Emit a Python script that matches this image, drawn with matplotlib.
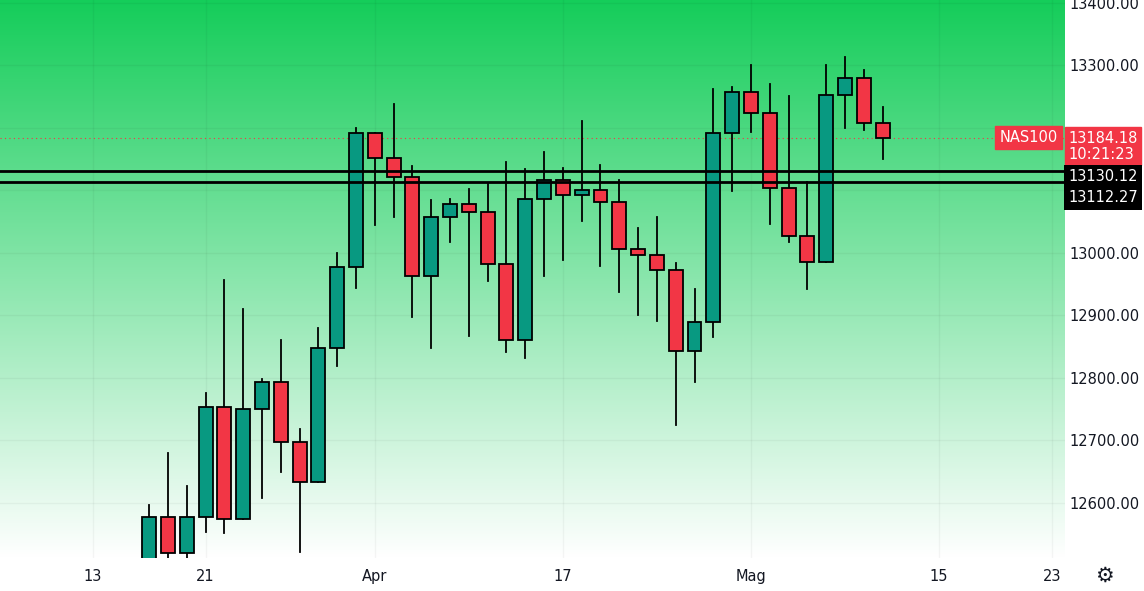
import numpy as np
import matplotlib.pyplot as plt
from matplotlib.patches import Rectangle

# daily OHLC
opens = [12510, 12578, 12520, 12578, 12754, 12575, 12750, 12794, 12698, 12634,
         12848, 12977, 13191, 13151, 13121, 12963, 13057, 13078, 13065, 12982,
         12861, 13086, 13116, 13092, 13100, 13081, 13006, 12996, 12973, 12843,
         12889, 13191, 13257, 13223, 13104, 13027, 12985, 13252, 13279, 13207]
highs = [12596, 12680, 12627, 12776, 12957, 12910, 12798, 12861, 12719, 12880,
         13000, 13199, 13191, 13238, 13139, 13084, 13086, 13102, 13110, 13145,
         13134, 13161, 13135, 13211, 13140, 13116, 13040, 13057, 12984, 12942,
         13262, 13265, 13300, 13270, 13250, 13113, 13300, 13313, 13292, 13233]
lows = [12500, 12508, 12508, 12554, 12552, 12575, 12608, 12650, 12522, 12634,
        12819, 12944, 13044, 13057, 12897, 12848, 13017, 12867, 12955, 12842,
        12832, 12963, 12988, 13051, 12979, 12937, 12901, 12891, 12725, 12794,
        12865, 13099, 13193, 13046, 13017, 12942, 12985, 13199, 13196, 13150]
closes = [12578, 12520, 12578, 12754, 12575, 12750, 12794, 12698, 12634, 12848,
          12977, 13191, 13151, 13121, 12963, 13057, 13078, 13065, 12982, 12861,
          13086, 13116, 13092, 13100, 13081, 13006, 12996, 12973, 12843, 12889,
          13191, 13257, 13223, 13104, 13027, 12985, 13252, 13279, 13207, 13184.18]
level_lines = [13130.12, 13112.27]
last_price = 13184.18
price_ticks = [12600, 12700, 12800, 12900, 13000, 13100, 13200, 13300, 13400]
hidden_ticks = [13100, 13200]  # covered by the price boxes in the original
date_ticks = [-3, 3, 12, 22, 32, 42, 48]
date_labels = ['13', '21', 'Apr', '17', 'Mag', '15', '23']

UP = '#089981'
DOWN = '#f23645'
TXT = '#131722'

fig = plt.figure(figsize=(11.44, 5.91), dpi=100)
ax = fig.add_axes([0, 33/591, 1065/1144, 558/591])
ymin, ymax = 12512, 13404
xmin, xmax = -7.93, 48.7

# green-to-white gradient background
top = np.array([21, 205, 90]) / 255
t = np.linspace(0, 1, 256)[:, None]
grad = top * (1 - t) + np.ones(3) * t
ax.imshow(grad[:, None, :].repeat(2, axis=1), extent=[xmin, xmax, ymin, ymax],
          aspect='auto', zorder=0)

for p in price_ticks:
    ax.axhline(p, color='#000000', alpha=0.04, lw=1, zorder=1)
for d in date_ticks:
    ax.axvline(d, color='#000000', alpha=0.04, lw=1, zorder=1)

for i, (o, h, l, c) in enumerate(zip(opens, highs, lows, closes)):
    col = UP if c >= o else DOWN
    ax.plot([i, i], [l, h], color='black', lw=1.3, zorder=3)
    ax.add_patch(Rectangle((i - 0.37, min(o, c)), 0.74, max(abs(c - o), 2),
                           facecolor=col, edgecolor='black', lw=1.3, zorder=4))

for lv in level_lines:
    ax.axhline(lv, color='black', lw=2, zorder=5)
ax.axhline(last_price, color=DOWN, lw=0.8, ls=(0, (1, 3)), zorder=2)

ax.set_xlim(xmin, xmax)
ax.set_ylim(ymin, ymax)
ax.set_xticks(date_ticks)
ax.set_xticklabels(date_labels, fontsize=10.5, color=TXT)
ax.yaxis.tick_right()
ax.set_yticks(price_ticks)
ax.set_yticklabels(['' if p in hidden_ticks else '%.2f' % p for p in price_ticks],
                   fontsize=10.5, color=TXT)
ax.tick_params(axis='x', length=0, pad=8)
ax.tick_params(axis='y', length=0, pad=3)
for s in ax.spines.values():
    s.set_visible(False)

# price labels on the right scale (boxes pushed apart like the trading app does)
trans = ax.get_yaxis_transform()
ax.text(1.003, 13170, '13184.18\n10:21:23', transform=trans, ha='left', va='center',
        fontsize=10.5, color='white', linespacing=1.05,
        bbox=dict(boxstyle='square,pad=0.25', fc=DOWN, ec=DOWN), zorder=6, clip_on=False)
ax.text(0.993, last_price, 'NAS100', transform=trans, ha='right', va='center',
        fontsize=10.5, color='white',
        bbox=dict(boxstyle='square,pad=0.3', fc=DOWN, ec=DOWN), zorder=6, clip_on=False)
for lv, ypos in zip(level_lines, [13122, 13088]):
    ax.text(1.003, ypos, '%.2f' % lv, transform=trans, ha='left', va='center',
            fontsize=10.5, color='white',
            bbox=dict(boxstyle='square,pad=0.3', fc='black', ec='black', lw=0), zorder=6, clip_on=False)
fig.text(1104/1144, 1 - 576/591, '\u2699', fontsize=15, color=TXT, ha='center', va='center')

fig.savefig('out.png', dpi=100)
